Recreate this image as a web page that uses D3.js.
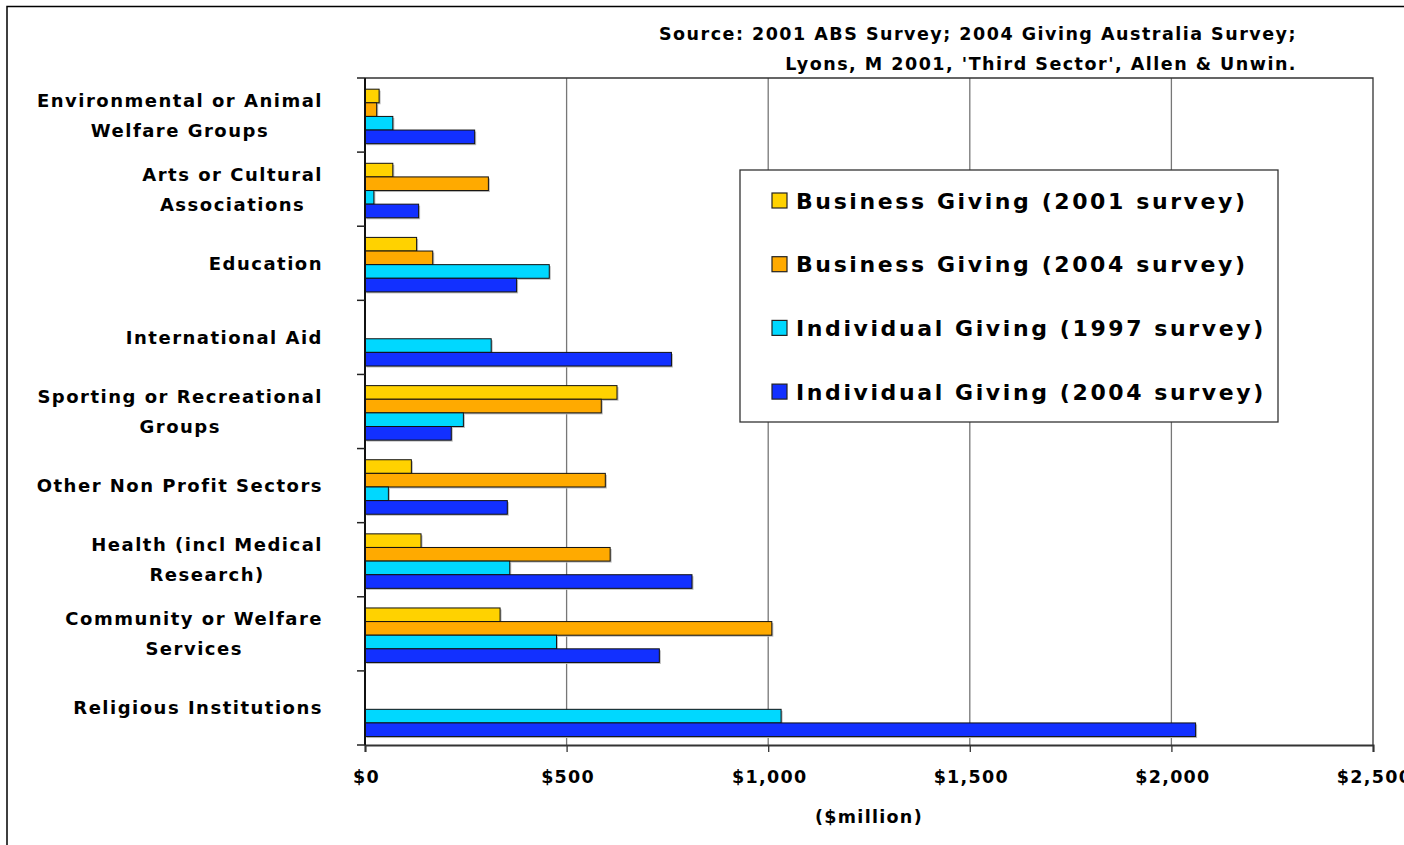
<!DOCTYPE html>
<html>
<head>
<meta charset="utf-8">
<script src="https://cdn.jsdelivr.net/npm/d3@7"></script>
<style>
  html, body { margin: 0; padding: 0; background: #fff; }
  svg { display: block; }
  text { font-family: "DejaVu Sans", Verdana, sans-serif; font-weight: bold; fill: #000; }
</style>
</head>
<body>
<svg id="chart" width="1404" height="845"></svg>
<script>
// Giving by cause, $million
const categories = [
  ["Environmental or Animal", "Welfare Groups"],
  ["Arts or Cultural", "Associations"],
  ["Education"],
  ["International Aid"],
  ["Sporting or Recreational", "Groups"],
  ["Other Non Profit Sectors"],
  ["Health (incl Medical", "Research)"],
  ["Community or Welfare", "Services"],
  ["Religious Institutions"]
];
const seriesNames = [
  "Business Giving (2001 survey)",
  "Business Giving (2004 survey)",
  "Individual Giving (1997 survey)",
  "Individual Giving (2004 survey)"
];
const business2001   = [35, 69, 128, null, 625, 115, 139, 335, null];
const business2004   = [29, 306, 168, null, 586, 596, 608, 1009, null];
const individual1997 = [69, 22, 457, 313, 244, 58, 359, 475, 1032];
const individual2004 = [272, 133, 376, 760, 214, 353, 811, 730, 2060];
const seriesValues = [business2001, business2004, individual1997, individual2004];
const seriesColors = ["#FFD200", "#FFAA00", "#00D8FF", "#1230FF"];
const xTicks = [0, 500, 1000, 1500, 2000, 2500];
const sourceLines = [
  "Source: 2001 ABS Survey; 2004 Giving Australia Survey;",
  "Lyons, M 2001, 'Third Sector', Allen & Unwin."
];
const axisTitle = "($million)";

const svg = d3.select("#chart");
const plot = { left: 365, right: 1373, top: 78, bottom: 745 };

const x = d3.scaleLinear().domain([0, 2500]).range([plot.left, plot.right]);
const catKeys = categories.map((c, i) => i);
const y = d3.scaleBand().domain(catKeys).range([plot.top, plot.bottom]).padding(0);
const ySub = d3.scaleBand().domain(d3.range(seriesNames.length))
  .range([0, y.bandwidth()]).paddingInner(0).paddingOuter(0.72).align(0.57);

// outer chart frame
svg.append("path").attr("d", "M7,845 V6.5 H1404")
  .attr("fill", "none").attr("stroke", "#000").attr("stroke-width", 1.5);

// vertical gridlines
svg.append("g").selectAll("line").data(xTicks.slice(1, -1)).join("line")
  .attr("x1", d => x(d)).attr("x2", d => x(d))
  .attr("y1", plot.top).attr("y2", plot.bottom)
  .attr("stroke", "#777").attr("stroke-width", 1.3);

// plot frame: top and right
svg.append("path").attr("d", `M${plot.left},${plot.top} H${plot.right} V${plot.bottom}`)
  .attr("fill", "none").attr("stroke", "#333").attr("stroke-width", 1.3);

// bars with soft shadow
const rows = [];
seriesValues.forEach((vals, s) => vals.forEach((v, c) => {
  if (v != null) rows.push({ s, c, v });
}));
const barG = svg.append("g");
barG.selectAll("rect.shadow").data(rows).join("rect").attr("class", "shadow")
  .attr("x", x(0) + 1.5)
  .attr("y", d => y(d.c) + ySub(d.s) + 1.5)
  .attr("width", d => x(d.v) - x(0))
  .attr("height", ySub.bandwidth())
  .attr("fill", "#bbb");
barG.selectAll("rect.bar").data(rows).join("rect").attr("class", "bar")
  .attr("x", x(0))
  .attr("y", d => y(d.c) + ySub(d.s))
  .attr("width", d => x(d.v) - x(0))
  .attr("height", ySub.bandwidth())
  .attr("fill", d => seriesColors[d.s])
  .attr("stroke", "#111").attr("stroke-width", 1);

// x axis
const xAxis = d3.axisBottom(x).tickValues(xTicks)
  .tickFormat(d => "$" + d3.format(",")(d)).tickSize(7).tickPadding(19);
const gx = svg.append("g").attr("transform", `translate(0,${plot.bottom})`).call(xAxis);
gx.select(".domain").attr("stroke", "#333").attr("stroke-width", 2);
gx.selectAll(".tick line").attr("stroke", "#333").attr("stroke-width", 1.3);
gx.selectAll("text").attr("font-size", 17.5).attr("font-family", "DejaVu Sans")
  .attr("font-weight", "bold").attr("fill", "#000").attr("letter-spacing", 1.3)
  .attr("dx", 1);

// y axis: ticks at category boundaries
const boundaries = catKeys.map(c => y(c)).concat([plot.bottom]);
svg.append("line").attr("x1", plot.left).attr("x2", plot.left)
  .attr("y1", plot.top).attr("y2", plot.bottom)
  .attr("stroke", "#111").attr("stroke-width", 2);
svg.append("g").selectAll("line").data(boundaries).join("line")
  .attr("x1", plot.left - 8).attr("x2", plot.left)
  .attr("y1", d => d).attr("y2", d => d)
  .attr("stroke", "#222").attr("stroke-width", 1.5);

// category labels: block right-aligned to the axis, lines centred within the block
const labelRight = 323;
const lineGap = 30;
const labelG = svg.append("g");
categories.forEach((lines, c) => {
  const cy = y(c) + y.bandwidth() / 2;
  const g = labelG.append("g");
  const texts = lines.map((t, i) => g.append("text")
    .attr("font-size", 18)
    .attr("letter-spacing", 1.5)
    .attr("text-anchor", "middle")
    .attr("dominant-baseline", "central")
    .attr("y", cy + (i - (lines.length - 1) / 2) * lineGap)
    .text(t));
  const w = d3.max(texts, t => t.node().getComputedTextLength());
  texts.forEach(t => t.attr("x", labelRight - w / 2));
});

// axis title
svg.append("text").attr("x", (plot.left + plot.right) / 2).attr("y", 823)
  .attr("text-anchor", "middle").attr("font-size", 17.5).attr("letter-spacing", 1.3)
  .text(axisTitle);

// source note
svg.append("g").selectAll("text").data(sourceLines).join("text")
  .attr("x", 1297).attr("y", (d, i) => 40 + i * 30)
  .attr("text-anchor", "end").attr("font-size", 17.5).attr("letter-spacing", 1.5)
  .text(d => d);

// legend
const legend = svg.append("g");
legend.append("rect").attr("x", 740).attr("y", 170).attr("width", 538).attr("height", 252)
  .attr("fill", "#fff").attr("stroke", "#333").attr("stroke-width", 1.3);
const items = legend.selectAll("g.item").data(seriesNames).join("g").attr("class", "item")
  .attr("transform", (d, i) => `translate(772,${201 + i * 63.7})`);
items.append("rect").attr("x", 0).attr("y", -8).attr("width", 15).attr("height", 15)
  .attr("fill", (d, i) => seriesColors[i]).attr("stroke", "#222").attr("stroke-width", 1.2);
items.append("text").attr("x", 24).attr("y", 0).attr("dominant-baseline", "central")
  .attr("font-size", 22).attr("letter-spacing", 2.6).text(d => d);
</script>
</body>
</html>
